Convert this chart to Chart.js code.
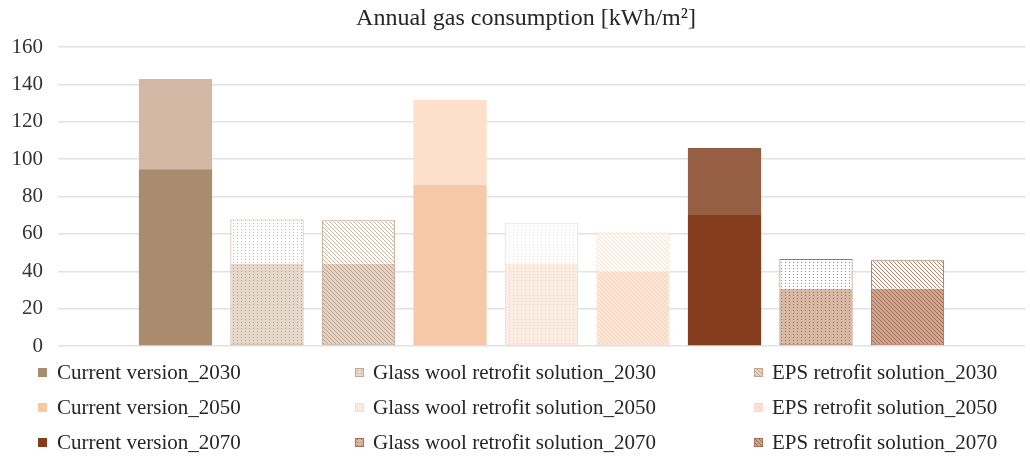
<!DOCTYPE html>
<html>
<head>
<meta charset="utf-8">
<script src="https://cdn.jsdelivr.net/npm/chart.js@4/dist/chart.umd.min.js"></script>
<style>
  html, body { margin: 0; padding: 0; background: #ffffff; }
  #wrap { width: 1030px; height: 461px; position: relative; }
</style>
</head>
<body>
<div id="wrap"><canvas id="c" width="1030" height="461"></canvas></div>
<script>
// Scenario names (one bar each), in legend order
const scenarios = [
  'Current version_2030', 'Glass wool retrofit solution_2030', 'EPS retrofit solution_2030',
  'Current version_2050', 'Glass wool retrofit solution_2050', 'EPS retrofit solution_2050',
  'Current version_2070', 'Glass wool retrofit solution_2070', 'EPS retrofit solution_2070'
];
// Lower (darker) part of each bar, kWh/m²
const baseValues = [94.6, 44.1, 44.0, 86.2, 44.1, 39.7, 70.1, 30.7, 30.7];
// Upper (lighter) part stacked on top, kWh/m²
const topValues = [48.3, 23.6, 23.3, 45.4, 21.8, 21.1, 35.9, 15.8, 15.2];
// Value axis ticks
const yTicks = [0, 20, 40, 60, 80, 100, 120, 140, 160];
const chartTitle = 'Annual gas consumption [kWh/m²]';

// Fill styles per bar: solid, dotted or hatched
const looks = [
  { kind: 'solid', low: '#ab8b6e', high: '#d3b8a6' },
  { kind: 'dots', border: '#bfa793', lowBg: '#e6d9cc', lowFg: '#b9a18d', highBg: '#ffffff', highFg: '#cbb9aa' },
  { kind: 'stripes', border: '#bfa793', lowBg: '#e3d3c5', lowFg: '#bea591', highBg: '#ffffff', highFg: '#c9b4a3' },
  { kind: 'solid', low: '#f7c8a8', high: '#fddfcb' },
  { kind: 'dots', border: '#f8dcc9', lowBg: '#fcece1', lowFg: '#f1cfb9', highBg: '#ffffff', highFg: '#f4ddcd' },
  { kind: 'stripes', border: '#f8dcc9', lowBg: '#fce8da', lowFg: '#f3d0b9', highBg: '#ffffff', highFg: '#f6dfd0' },
  { kind: 'solid', low: '#843c1d', high: '#965f45' },
  { kind: 'dots', border: '#a56f58', lowBg: '#d9b8a3', lowFg: '#a3725c', highBg: '#ffffff', highFg: '#b68a75' },
  { kind: 'stripes', border: '#a56f58', lowBg: '#cfa68e', lowFg: '#a26d56', highBg: '#ffffff', highFg: '#b3836c' }
];

function makePattern(bg, fg, kind) {
  const tile = document.createElement('canvas');
  tile.width = 4;
  tile.height = kind === 'dots' ? 3 : 4;
  const g = tile.getContext('2d');
  g.fillStyle = bg;
  g.fillRect(0, 0, tile.width, tile.height);
  g.fillStyle = fg;
  if (kind === 'dots') {
    g.fillRect(1, 1, 1, 1);
  } else {
    for (let i = 0; i < 4; i++) g.fillRect(i, i, 1, 1);
  }
  return g.createPattern(tile, 'repeat');
}

const lowFills = looks.map(l => l.kind === 'solid' ? l.low : makePattern(l.lowBg, l.lowFg, l.kind));
const highFills = looks.map(l => l.kind === 'solid' ? l.high : makePattern(l.highBg, l.highFg, l.kind));
const borders = looks.map(l => l.kind === 'solid' ? 'rgba(0,0,0,0)' : l.border);
const borderWidths = looks.map(l => l.kind === 'solid' ? 0 : 1);

const FONT = "'Liberation Serif', 'Times New Roman', serif";
const TEXT = '#262626';

// Title above the plot
const titlePlugin = {
  id: 'topTitle',
  afterDraw(chart) {
    const ctx = chart.ctx;
    ctx.save();
    ctx.font = `24px ${FONT}`;
    ctx.fillStyle = TEXT;
    ctx.textAlign = 'center';
    ctx.textBaseline = 'middle';
    ctx.fillText(chartTitle, 526, 19);
    ctx.restore();
  }
};

// Three-column legend under the plot
const gridLegend = {
  id: 'gridLegend',
  afterDraw(chart) {
    const ctx = chart.ctx;
    const swatchX = [38, 355, 754];
    const textX = [57, 373, 772];
    const rowY = [373, 408, 443];
    ctx.save();
    ctx.font = `21px ${FONT}`;
    ctx.textBaseline = 'middle';
    ctx.textAlign = 'left';
    scenarios.forEach((name, i) => {
      const col = i % 3, row = Math.floor(i / 3);
      const x = swatchX[col], y = rowY[row] - 5;
      ctx.fillStyle = lowFills[i];
      ctx.fillRect(x, y, 9, 9);
      if (borderWidths[i] > 0) {
        ctx.strokeStyle = borders[i];
        ctx.lineWidth = 1;
        ctx.strokeRect(x + 0.5, y + 0.5, 8, 8);
      }
      ctx.fillStyle = TEXT;
      ctx.fillText(name, textX[col], rowY[row]);
    });
    ctx.restore();
  }
};

new Chart(document.getElementById('c'), {
  type: 'bar',
  data: {
    datasets: [
      {
        label: 'base',
        data: baseValues.map((v, i) => ({ x: i, y: v })),
        backgroundColor: lowFills,
        borderColor: borders,
        borderWidth: borderWidths,
        borderSkipped: 'top',
        barPercentage: 0.8,
        categoryPercentage: 1.0
      },
      {
        label: 'top',
        data: topValues.map((v, i) => ({ x: i, y: v })),
        backgroundColor: highFills,
        borderColor: borders,
        borderWidth: borderWidths,
        borderSkipped: 'bottom',
        barPercentage: 0.8,
        categoryPercentage: 1.0
      }
    ]
  },
  options: {
    responsive: false,
    animation: false,
    devicePixelRatio: 1,
    layout: { padding: { left: 0, right: 5, top: 47, bottom: 115 } },
    plugins: {
      legend: { display: false },
      title: { display: false },
      tooltip: { enabled: false }
    },
    scales: {
      x: {
        type: 'linear',
        min: -1.284,
        max: 9.284,
        offset: false,
        stacked: true,
        display: false
      },
      y: {
        stacked: true,
        min: 0,
        max: 160,
        afterBuildTicks(scale) { scale.ticks = yTicks.map(v => ({ value: v })); },
        afterFit(scale) { scale.width = 58; },
        ticks: { font: { family: FONT, size: 21 }, color: '#333333', padding: 15 },
        grid: { color: '#e2e2e2', lineWidth: 1.5, drawTicks: false },
        border: { display: false }
      }
    }
  },
  plugins: [titlePlugin, gridLegend]
});
</script>
</body>
</html>
